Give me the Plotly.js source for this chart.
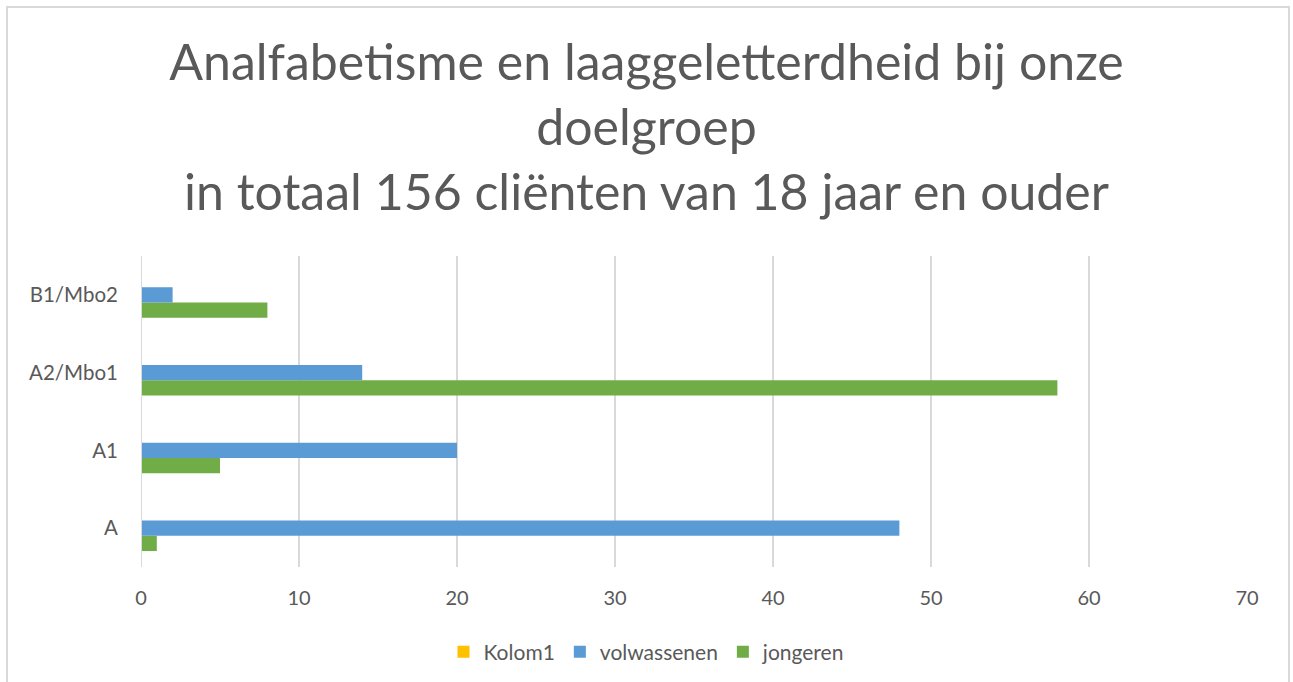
<!DOCTYPE html>
<html>
<head>
<meta charset="utf-8">
<script src="https://cdn.plot.ly/plotly-3.0.1.min.js"></script>
<style>
  html, body { margin: 0; padding: 0; background: #ffffff; overflow: hidden; }
  #chart { width: 1293px; height: 682px; }
  #frame { position: absolute; left: 6px; top: 6px; width: 1280px; height: 700px;
           border: 2px solid #D9D9D9; pointer-events: none; }
</style>
</head>
<body>
<div id="chart"></div>
<div id="frame"></div>
<script>
const categories = ['A', 'A1', 'A2/Mbo1', 'B1/Mbo2'];
const kolom1 = [null, null, null, null];
const volwassenen = [48, 20, 14, 2];
const jongeren = [1, 5, 58, 8];
const xTicks = [0, 10, 20, 30, 40, 50, 60, 70];

const FONT = 'Lato, "Open Sans", sans-serif';
const GREY = '#595959';

const traces = [
  { type: 'bar', orientation: 'h', name: 'jongeren', y: categories, x: jongeren,
    marker: { color: '#70AD47', line: { width: 0 } }, hoverinfo: 'x+name' },
  { type: 'bar', orientation: 'h', name: 'volwassenen', y: categories, x: volwassenen,
    marker: { color: '#5B9BD5', line: { width: 0 } }, hoverinfo: 'x+name' },
  { type: 'bar', orientation: 'h', name: 'Kolom1', y: categories, x: kolom1,
    marker: { color: '#FFC000', line: { width: 0 } }, hoverinfo: 'x+name' }
];

const layout = {
  width: 1293, height: 682,
  margin: { l: 141, r: 46, t: 256, b: 115 },
  paper_bgcolor: '#ffffff', plot_bgcolor: '#ffffff',
  font: { family: FONT, color: GREY, size: 20 },
  title: {
    text: 'Analfabetisme en laaggeletterdheid bij onze<br>doelgroep<br>in totaal 156 cliënten van 18 jaar en ouder',
    font: { family: FONT, size: 50, color: GREY },
    x: 0.5, xref: 'container', xanchor: 'center',
    y: 0.883, yref: 'container', yanchor: 'middle'
  },
  barmode: 'group', bargap: 0.41, bargroupgap: 0,
  xaxis: {
    range: [0, 70], tickvals: xTicks, ticktext: xTicks.map(String),
    showgrid: true, gridcolor: '#D9D9D9', gridwidth: 2,
    zeroline: false, showline: false, ticks: '',
    ticklabelstandoff: 17, tickfont: { family: FONT, size: 20, color: GREY },
    fixedrange: true
  },
  yaxis: {
    type: 'category', categoryorder: 'array', categoryarray: categories,
    showgrid: false, zeroline: false, showline: false, ticks: '',
    ticklabelstandoff: 22, tickfont: { family: FONT, size: 20.5, color: GREY },
    fixedrange: true
  },
  shapes: [{ type: 'line', xref: 'x', yref: 'paper', x0: 0, x1: 0, y0: 0, y1: 1,
             line: { color: '#D9D9D9', width: 2 } }],
  showlegend: true,
  legend: {
    orientation: 'h', traceorder: 'reversed',
    x: 0.5, xref: 'container', xanchor: 'center',
    y: 0.044, yref: 'container', yanchor: 'middle',
    font: { family: FONT, size: 21, color: GREY },
    itemwidth: 30
  }
};

Plotly.newPlot('chart', traces, layout, { displayModeBar: false, staticPlot: true });
</script>
</body>
</html>
